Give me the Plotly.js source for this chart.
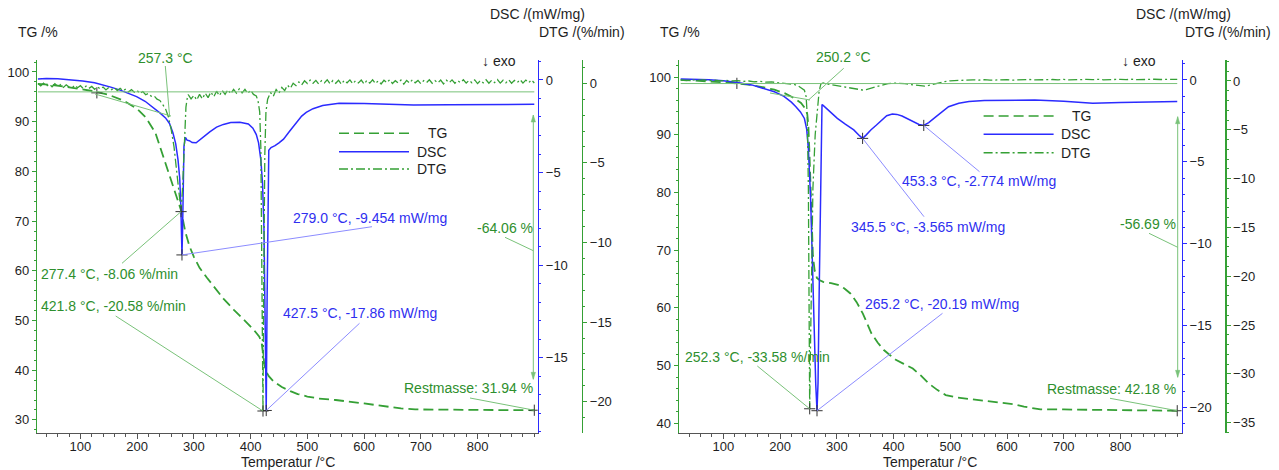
<!DOCTYPE html>
<html><head><meta charset="utf-8">
<script src="https://cdn.plot.ly/plotly-3.0.1.min.js"></script>
<style>html,body{margin:0;padding:0;background:#fff}#chart{width:1279px;height:470px}</style>
</head><body><div id="chart"></div>
<script>
// ---------------- LEFT PANEL DATA ----------------
const L_TG_T = [25,50,75,100,125,150,175,200,215,232,246,255,264,271,277,285,292,300,310,323,337,352,370,390,405,415,419,422,424,427,432,440,455,470,483,500,520,550,575,600,620,640,665,690,720,760,800,850,900];
const L_TG   = [97.6,97.4,97.0,96.6,96.1,95.4,94.3,92.6,90.9,87.8,83.0,80.0,76.9,74.6,72.3,67.8,65.0,62.8,60.6,58.6,56.6,54.4,52.2,50.0,48.2,46.8,45.8,43.5,41.2,39.8,38.8,37.8,36.6,35.8,35.2,34.7,34.3,34.0,33.7,33.3,33.0,32.7,32.3,32.1,32.1,32.0,32.0,31.97,31.94];

const L_DSC_T = [25,40,60,80,104,125,140,155,170,185,199,214,228,240,250,257,263,268,272,275,277,278.3,279,280,281.2,282.5,285,288,292,297,304,315,328,340,352,365,381,396,404,410,414,418,421,423.5,425.5,427.5,429,430.5,432,436,443,450,458,468,480,490,498,510,527,556,600,640,687,750,800,850,900];
const L_DSC   = [0.05,0.08,0.06,0.02,-0.05,-0.15,-0.26,-0.4,-0.55,-0.72,-0.9,-1.15,-1.48,-1.78,-2.05,-2.35,-2.85,-3.45,-4.3,-5.3,-6.8,-8.4,-9.454,-8.2,-5.5,-3.6,-3.1,-3.25,-3.28,-3.38,-3.39,-3.1,-2.8,-2.55,-2.4,-2.3,-2.28,-2.38,-2.6,-2.95,-3.4,-4.3,-5.6,-8,-12.5,-17.86,-12,-6,-3.8,-3.65,-3.55,-3.4,-3.2,-2.8,-2.3,-1.95,-1.75,-1.55,-1.38,-1.26,-1.27,-1.3,-1.35,-1.34,-1.32,-1.31,-1.31];

const L_DTG_T = [25,30,35,40,45,50,55,60,65,70,
  75,80,85,90,95,100,105,110,115,120,
  125,130,135,140,145,150,155,160,165,170,
  175,180,185,190,195,200,205,210,215,220,
  225,230,235,240,245,250,255,260,265,270,
  274,277.4,280,282,284,286,288,290,295,300,
  305,310,315,320,325,330,335,340,345,350,
  355,360,365,370,375,380,385,390,395,400,
  405,410,413,416,418,420,421.8,423,425,427,
  430,435,440,445,450,455,460,465,470,475,
  480,485,490,495,500,505,510,515,520,525,
  530,535,540,545,550,555,560,565,570,575,
  580,585,590,595,600,605,610,615,620,625,
  630,635,640,645,650,655,660,665,670,675,
  680,685,690,695,700,705,710,715,720,725,
  730,735,740,745,750,755,760,765,770,775,
  780,785,790,795,800,805,810,815,820,825,
  830,835,840,845,850,855,860,865,870,875,
  880,885,890,895,900];
const L_DTG = [-0.02,-0.16,0.00,-0.19,-0.05,-0.22,-0.03,-0.20,-0.08,-0.26,
  -0.10,-0.24,-0.30,-0.12,-0.28,-0.15,-0.34,-0.18,-0.32,-0.20,
  -0.38,-0.22,-0.36,-0.24,-0.42,-0.26,-0.40,-0.28,-0.46,-0.32,
  -0.48,-0.36,-0.54,-0.40,-0.56,-0.46,-0.64,-0.52,-0.72,-0.64,
  -0.82,-0.80,-1.00,-1.08,-1.34,-1.60,-2.10,-2.90,-4.00,-5.50,
  -7.00,-8.06,-6.60,-4.50,-2.60,-1.50,-1.00,-0.72,-0.98,-0.76,
  -1.05,-0.70,-0.98,-0.62,-0.90,-0.55,-0.85,-0.50,-0.78,-0.45,
  -0.70,-0.40,-0.66,-0.38,-0.62,-0.35,-0.60,-0.38,-0.64,-0.44,
  -0.70,-0.80,-1.10,-1.80,-4.00,-11.0,-20.58,-13.0,-4.50,-1.80,
  -1.00,-0.58,-0.82,-0.40,-0.62,-0.26,-0.46,-0.12,-0.32,0.00,
  -0.15,0.08,-0.10,0.15,-0.02,0.20,0.00,0.18,-0.05,0.16,
  0.02,0.22,-0.04,0.17,0.00,0.19,-0.06,0.18,0.03,0.21,
  -0.03,0.16,0.02,0.20,-0.05,0.18,0.01,0.22,-0.02,0.15,
  -0.04,0.19,0.03,0.22,-0.01,0.16,0.02,0.20,-0.05,0.18,
  0.01,0.21,0.03,0.18,-0.03,0.16,0.04,0.22,0.00,0.17,
  0.02,0.20,-0.04,0.19,0.03,0.21,0.00,0.16,0.04,0.22,
  0.01,0.18,0.03,0.21,-0.02,0.17,0.02,0.22,0.00,0.19,
  0.04,0.23,0.01,0.19,0.03,0.22,0.00,0.18,0.04,0.23,
  0.01,0.20,0.03,0.21,0.02];

const L_DTG_PK_T = [277.4, 421.8];
const L_DTG_PK   = [-8.06, -20.58];
const L_DSC_PK_T = [279.0, 427.5];
const L_DSC_PK   = [-9.454, -17.86];
const L_ONSET = 257.3;
const L_REST = 31.94;
const L_LOSS = -64.06;
const L_MARK_T = [129];
const L_MARK_TG = [95.8];

// ---------------- RIGHT PANEL DATA ----------------
const R_TG_T = [25,50,75,100,124,150,172,190,208,222,237,244,248,250,252,254,256,258,261,265,270,276,290,302,313,324,335,346,354,361,372,383,394,404,418,434,448,462,477,492,510,536,565,594,612,630,645,659,700,755,800,850,900];
const R_TG   = [99.5,99.4,99.3,99.1,98.9,98.6,98.2,97.8,97.2,96.5,95.5,94.6,93.6,91.5,86.5,80,73.5,69,66.5,65.2,64.8,64.5,64.3,64.0,63.4,62.5,61.0,59.0,57.2,55.6,54.0,52.7,51.8,51.0,50.3,49.5,48.3,46.9,45.8,44.9,44.5,44.2,43.9,43.6,43.3,42.9,42.6,42.4,42.4,42.35,42.3,42.25,42.18];

const R_DSC_T = [25,50,75,100,125,150,171,190,207,220,228,236,243,247,250,252,254,256,258,261,263,265.2,267,269,271,272.5,274,276,285,295,301,315,330,340,345.5,352,360,370,380,388,398,406,415,424,435,445,453.3,462,475,485,497,515,533,560,600,649,700,751,800,850,900];
const R_DSC   = [0.06,0.05,0.02,-0.05,-0.15,-0.3,-0.5,-0.72,-1.0,-1.35,-1.63,-1.95,-2.35,-3.0,-4.2,-5.5,-7.3,-9.8,-12.5,-16.2,-18.6,-20.19,-18.5,-13,-7.5,-3.5,-1.5,-1.55,-1.85,-2.15,-2.34,-2.7,-3.05,-3.4,-3.565,-3.35,-3.05,-2.75,-2.4,-2.18,-2.08,-2.1,-2.2,-2.36,-2.55,-2.72,-2.774,-2.6,-2.24,-1.95,-1.63,-1.42,-1.32,-1.25,-1.22,-1.22,-1.3,-1.42,-1.38,-1.33,-1.32];

const R_DTG_T = [25,35,45,55,65,75,85,95,105,115,
  125,135,145,155,165,175,185,195,205,215,
  225,232,238,243,246,248,250,251.3,252.3,253.5,
  255,258,262,266,269,272,276,282,290,300,
  310,320,330,338,345,352,360,370,380,390,
  400,410,420,430,440,448,455,462,470,480,
  490,500,510,520,530,540,550,560,570,580,
  590,600,610,620,630,640,650,660,670,680,
  690,700,710,720,730,740,750,760,770,780,
  790,800,810,820,830,840,850,860,870,880,
  890,900];
const R_DTG = [0.10,0.05,0.12,0.06,0.11,0.04,0.09,0.02,0.07,0.00,
  0.04,-0.04,0.00,-0.08,-0.04,-0.12,-0.10,-0.18,-0.20,-0.28,
  -0.36,-0.50,-0.70,-0.95,-1.60,-3.50,-11.0,-24.0,-33.58,-28.0,
  -20.0,-11.0,-5.50,-2.50,-1.00,-0.30,-0.20,-0.30,-0.38,-0.45,
  -0.55,-0.65,-0.78,-0.88,-0.92,-0.88,-0.75,-0.56,-0.38,-0.26,
  -0.22,-0.24,-0.28,-0.36,-0.45,-0.51,-0.52,-0.46,-0.33,-0.18,
  -0.06,0.02,0.06,0.10,0.07,0.12,0.09,0.13,0.08,0.12,
  0.10,0.14,0.09,0.13,0.10,0.15,0.11,0.14,0.10,0.15,
  0.12,0.16,0.11,0.15,0.12,0.16,0.13,0.17,0.12,0.16,
  0.13,0.17,0.14,0.18,0.13,0.17,0.14,0.18,0.15,0.18,
  0.14,0.17];

const R_DTG_PK_T = [252.3];
const R_DTG_PK   = [-33.58];
const R_DSC_PK_T = [265.2, 345.5, 453.3];
const R_DSC_PK   = [-20.19, -3.565, -2.774];
const R_ONSET = 250.2;
const R_REST = 42.18;
const R_LOSS = -56.69;
const R_MARK_T = [124];
const R_MARK_TG = [98.9];

const END_T = 900;
const X_TICKS = [100,200,300,400,500,600,700,800];

// ---------------- STYLE / GEOMETRY ----------------
const FONT = 'Arial, "Liberation Sans", Helvetica, sans-serif';
const GREEN = '#35a035', GREEN_TXT = '#2e8f2e', GREEN_THIN = '#79c279';
const BLUE = '#2b2bff', BLUE_TXT = '#2f2ff0', BLUE_THIN = '#8c8cff';
const INK = '#1e1e1e', AXIS = '#555555';
const W = 1279, H = 470, TOP = 60, BOT = 432.5;
const PL = {x0:37.3, x1:537.7, xr:[24,906], tg:[27.46,102.41], dsc:[-19.05,1.08], dtg:[-21.93,1.46], dtgPos:581.7, xa:'x', ya:['y','y2','y3']};
const PR = {x0:679, x1:1181.5, xr:[22,907.5], tg:[38.41,102.95], dsc:[-21.52,1.22], dtg:[-36.01,2.15], dtgPos:1225, xa:'x2', ya:['y4','y5','y6']};

const px2x = (P,px) => P.xr[0] + (px-P.x0)/(P.x1-P.x0)*(P.xr[1]-P.xr[0]);
const py2v = (r,py) => r[0] + (BOT-py)/(BOT-TOP)*(r[1]-r[0]);
const PX = px => px/W, PY = py => 1-py/H;

const shapes = [], annotations = [];
function leader(P, idx, tipT, tipV, tx, ty, color){
  const r = [P.tg,P.dsc,P.dtg][idx];
  shapes.push({type:'line', xref:P.xa, yref:P.ya[idx], x0:tipT, y0:tipV, x1:px2x(P,tx), y1:py2v(r,ty), line:{color, width:1}});
}
function pline(x0,y0,x1,y1,color,width,dash){
  shapes.push({type:'line', xref:'paper', yref:'paper', x0:PX(x0), y0:PY(y0), x1:PX(x1), y1:PY(y1), line:{color, width:width||1, dash:dash||'solid'}});
}
function txt(t,px,py,anchor,color,size){
  annotations.push({text:t, xref:'paper', yref:'paper', x:PX(px), y:PY(py), xanchor:anchor, yanchor:'middle', showarrow:false, borderpad:0, font:{family:FONT, size:size||14, color}});
}
function head(px,py,dir,color){
  const h=7, w=2.2;
  shapes.push({type:'path', xref:'paper', yref:'paper', path:`M ${PX(px)} ${PY(py)} L ${PX(px-w)} ${PY(py-dir*h)} L ${PX(px+w)} ${PY(py-dir*h)} Z`, fillcolor:color, line:{color, width:0.5}});
}
const fmtT = t => t.toFixed(1) + ' °C';

// ---------- panel decorations ----------
function panel(P, d){
  shapes.push({type:'line', xref:P.xa, yref:P.ya[0], x0:25, x1:END_T, y0:d.rest-d.loss, y1:d.rest-d.loss, line:{color:GREEN_THIN, width:1}});
  txt(fmtT(d.onset), d.onsetTxt[0], d.onsetTxt[1], 'center', GREEN_TXT);
  leader(P, 0, d.onset, py2v(P.tg, d.onsetTip), d.onsetTail[0], d.onsetTail[1], GREEN_THIN);
  pline(d.tan[0], d.tan[1], d.tan[2], d.tan[3], GREEN_THIN, 1);
  d.dtgT.forEach((t,i)=>{
    const L = d.dtgLab[i];
    txt(fmtT(t)+', '+d.dtgV[i]+' %/min', L[0], L[1], 'left', GREEN_TXT);
    leader(P, 2, t, d.dtgV[i], L[2], L[3], GREEN_THIN);
  });
  d.dscT.forEach((t,i)=>{
    const L = d.dscLab[i];
    txt(fmtT(t)+', '+d.dscV[i]+' mW/mg', L[0], L[1], 'left', BLUE_TXT);
    leader(P, 1, t, d.dscV[i], L[2], L[3], BLUE_THIN);
  });
  txt('Restmasse: '+d.rest.toFixed(2)+' %', d.restLab[0], d.restLab[1], 'right', GREEN_TXT);
  leader(P, 0, END_T, d.rest, d.restLab[2], d.restLab[3], GREEN_THIN);
  txt(d.loss.toFixed(2)+' %', d.lossLab[0], d.lossLab[1], 'right', GREEN_TXT);
  pline(d.lossLab[2], d.lossLab[3], d.arrow[0], d.lossLab[4], GREEN_THIN, 1);
  pline(d.arrow[0], d.arrow[1], d.arrow[0], d.arrow[2], GREEN_THIN, 1);
  head(d.arrow[0], d.arrow[1], -1, GREEN_THIN);
  head(d.arrow[0], d.arrow[2], 1, GREEN_THIN);
  txt('↓ exo', d.exo[0], d.exo[1], 'center', INK);
  txt('TG /%', d.titles[0], 32, 'left', INK);
  txt('DSC /(mW/mg)', d.titles[1], 14.5, 'right', INK);
  txt('DTG /(%/min)', d.titles[2], 32, 'right', INK);
  txt('Temperatur /°C', (P.x0+P.x1)/2, 461.5, 'center', INK);
  const lg = d.legend, names=['TG','DSC','DTG'], cols=[GREEN,BLUE,GREEN], dashes=['10px,5px','solid','9px,3px,2px,3px'];
  names.forEach((n,i)=>{
    pline(lg[0], lg[3+i], lg[1], lg[3+i], cols[i], 1.5, dashes[i]);
    txt(n, lg[2], lg[3+i], 'right', INK);
  });
}

panel(PL, {
  rest:L_REST, loss:L_LOSS, onset:L_ONSET,
  onsetTxt:[165,57.5], onsetTip:117, onsetTail:[165.3,66], tan:[95,94,171,116],
  dtgT:L_DTG_PK_T, dtgV:L_DTG_PK, dtgLab:[[40,274,122,263.3],[40,306,115.7,316]],
  dscT:L_DSC_PK_T, dscV:L_DSC_PK, dscLab:[[292,218.3,372,226.7],[282,313.3,359.5,323.3]],
  restLab:[534,388.3,470,398], lossLab:[534,227.7,505,237.3,250.7],
  arrow:[533.3,115,379.3], exo:[499,60.7], titles:[17,586,626],
  legend:[339,409,448,133.3,151.7,169]
});
panel(PR, {
  rest:R_REST, loss:R_LOSS, onset:R_ONSET,
  onsetTxt:[844,57.3], onsetTip:100, onsetTail:[843.7,68.3], tan:[770,93,810,100],
  dtgT:R_DTG_PK_T, dtgV:R_DTG_PK, dtgLab:[[683.5,356.7,757.3,366]],
  dscT:R_DSC_PK_T, dscV:R_DSC_PK, dscLab:[[863.5,304,942.5,313.3],[850,226.7,924,216.7],[900.5,181,979.5,171.7]],
  restLab:[1176.5,389,1110,398.3], lossLab:[1176.5,224,1149,233.3,247.3],
  arrow:[1177.7,116.7,377.3], exo:[1139,60.7], titles:[659,1232,1272],
  legend:[983.6,1053.6,1092,116,134.3,152.7]
});

// ---------------- TRACES ----------------
const MK = {symbol:'cross-thin', size:8, line:{color:'#333', width:1}};
function tr(x,y,xa,ya,line){ return {x, y, xaxis:xa, yaxis:ya, mode:'lines', line, hoverinfo:'skip', showlegend:false}; }
function mk(x,y,xa,ya){ return {x, y, xaxis:xa, yaxis:ya, mode:'markers', marker:MK, hoverinfo:'skip', showlegend:false}; }
const TG_LINE = {color:GREEN, width:1.8, dash:'10px,5px'};
const DTG_LINE = {color:GREEN, width:1.3, dash:'9px,3px,2px,3px'};
const DSC_LINE = {color:BLUE, width:1.5};
const data = [
  tr(L_TG_T, L_TG, 'x','y', TG_LINE),
  tr(L_DTG_T, L_DTG, 'x','y3', DTG_LINE),
  tr(L_DSC_T, L_DSC, 'x','y2', DSC_LINE),
  mk(L_DTG_PK_T, L_DTG_PK, 'x','y3'),
  mk(L_DSC_PK_T, L_DSC_PK, 'x','y2'),
  mk([END_T].concat(L_MARK_T), [L_REST].concat(L_MARK_TG), 'x','y'),
  tr(R_TG_T, R_TG, 'x2','y4', TG_LINE),
  tr(R_DTG_T, R_DTG, 'x2','y6', DTG_LINE),
  tr(R_DSC_T, R_DSC, 'x2','y5', DSC_LINE),
  mk(R_DTG_PK_T, R_DTG_PK, 'x2','y6'),
  mk(R_DSC_PK_T, R_DSC_PK, 'x2','y5'),
  mk([END_T].concat(R_MARK_T), [R_REST].concat(R_MARK_TG), 'x2','y4')
];

// ---------------- AXES ----------------
const yD = [(H-BOT)/H, (H-TOP)/H];
const TF = {family:FONT, size:13, color:INK};
function xAx(P, anchor){
  return {domain:[P.x0/W, P.x1/W], range:P.xr, anchor, showline:true, linecolor:AXIS, linewidth:1,
    ticks:'outside', ticklen:5, tickcolor:AXIS, tickmode:'array', tickvals:X_TICKS, ticktext:X_TICKS.map(String),
    ticklabelstandoff:-3,
    minor:{ticks:'outside', ticklen:3, tickcolor:AXIS, dtick:20, tick0:0},
    showgrid:false, zeroline:false, tickfont:TF, fixedrange:true};
}
function yAx(r, color, dtick, mdt, extra){
  return Object.assign({domain:yD, range:r, showline:true, linecolor:color, linewidth:1.5,
    ticks:'outside', ticklen:4, tickcolor:color, dtick, tick0:0,
    minor:{ticks:'outside', ticklen:2, tickcolor:color, dtick:mdt, tick0:0},
    showgrid:false, zeroline:false, tickfont:TF, fixedrange:true}, extra);
}
const layout = {
  width:W, height:H, margin:{l:0,r:0,t:0,b:0}, paper_bgcolor:'#fff', plot_bgcolor:'#fff',
  showlegend:false, hovermode:false, font:{family:FONT, size:13, color:INK},
  xaxis: xAx(PL,'y'),
  yaxis: yAx(PL.tg, GREEN, 10, 2, {anchor:'x', side:'left'}),
  yaxis2: yAx(PL.dsc, BLUE, 5, 1, {anchor:'x', side:'right', overlaying:'y'}),
  yaxis3: yAx(PL.dtg, GREEN, 5, 1, {anchor:'free', position:PL.dtgPos/W, side:'right', overlaying:'y'}),
  xaxis2: xAx(PR,'y4'),
  yaxis4: yAx(PR.tg, GREEN, 10, 2, {anchor:'x2', side:'left'}),
  yaxis5: yAx(PR.dsc, BLUE, 5, 1, {anchor:'x2', side:'right', overlaying:'y4'}),
  yaxis6: yAx(PR.dtg, GREEN, 5, 1, {anchor:'free', position:PR.dtgPos/W, side:'right', overlaying:'y4'}),
  shapes, annotations
};
Plotly.newPlot('chart', data, layout, {staticPlot:true, displayModeBar:false});
</script>
</body></html>
